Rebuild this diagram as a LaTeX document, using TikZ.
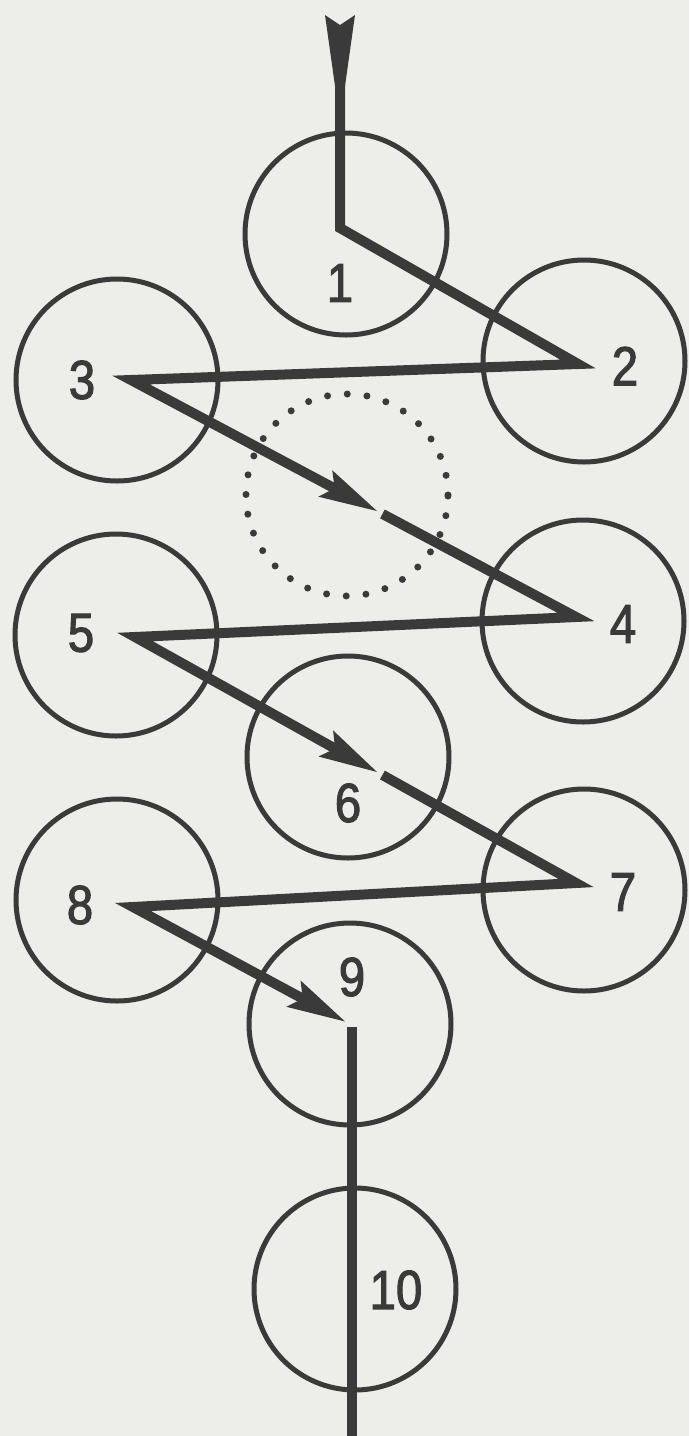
\documentclass[tikz,border=0pt]{standalone}
\usepackage{fontspec}
\newfontfamily\labfont[FakeStretch=0.86,FakeBold=2]{Liberation Sans}
\usetikzlibrary{arrows.meta,calc}
\definecolor{paper}{RGB}{237,237,234}
\definecolor{ink}{RGB}{58,58,58}
\begin{document}
\begin{tikzpicture}[x=1pt,y=-1pt,
  sefira/.style={circle,draw=ink,line width=5pt,minimum size=202pt,inner sep=0pt},
  hidden/.style={circle,draw=ink,line width=7pt,dash pattern=on 0pt off 19.8pt,line cap=round,minimum size=202pt,inner sep=0pt},
  num/.style={text=ink,font=\labfont\fontsize{55}{55}\selectfont,inner sep=0pt},
  bolt/.style={draw=ink,line width=10pt,line join=miter,miter limit=10},
  flash/.style={bolt,-{Stealth[length=58pt,width=28pt,inset=9pt]}}]
\fill[paper] (0,0) rectangle (689,1436);
\useasboundingbox (0,0) rectangle (689,1436);

% sefirot
\node[sefira] (s1) at (346,234) {};
\node[sefira] (s2) at (584,361) {};
\node[sefira] (s3) at (117,380) {};
\node[hidden] (dt) at (347,495) {};
\node[sefira] (s4) at (583,621) {};
\node[sefira] (s5) at (116,635) {};
\node[sefira] (s6) at (348,757) {};
\node[sefira] (s7) at (584,890) {};
\node[sefira] (s8) at (117,900) {};
\node[sefira] (s9) at (350,1024) {};
\node[sefira] (s10) at (355,1289) {};

% labels
\node[num] (l1) at (340,283) {1};
\node[num] (l2) at (625,366) {2};
\node[num] (l3) at (82,380) {3};
\node[num] (l4) at (623,624) {4};
\node[num] (l5) at (81,633) {5};
\node[num] (l6) at (348,803) {6};
\node[num] (l7) at (623,892) {7};
\node[num] (l8) at (80,905) {8};
\node[num] (l9) at (352,977) {9};
\node[num] (l10) at (396,1290) {10};

% flash coordinates
\coordinate (tail) at (340,80);
\coordinate (c1) at (340,228);
\coordinate (a2) at (578,364);
\coordinate (a3) at (131,380);
\coordinate (a4) at (576,617);
\coordinate (a5) at (135,637);
\coordinate (a7) at (576,883);
\coordinate (a8) at (133,907);
\coordinate (t34) at ($(a3)!0.555!(a4)$);
\coordinate (r34) at ($(a3)!0.565!(a4)$);
\coordinate (t57) at ($(a5)!0.551!(a7)$);
\coordinate (r57) at ($(a5)!0.561!(a7)$);
\coordinate (t89) at (346,1022);
\coordinate (b9) at (352,1027);
\coordinate (foot) at (352,1436);

% tail of the flash
\fill[ink] (325,15) -- (340,25) -- (355,15) -- (345,86) -- (335,86) -- cycle;

\draw[flash] (tail) -- (c1) -- (a2) -- (a3) -- (t34);
\draw[flash] (r34) -- (a4) -- (a5) -- (t57);
\draw[flash] (r57) -- (a7) -- (a8) -- (t89);
\draw[bolt] (b9) -- (foot);
\end{tikzpicture}
\end{document}
